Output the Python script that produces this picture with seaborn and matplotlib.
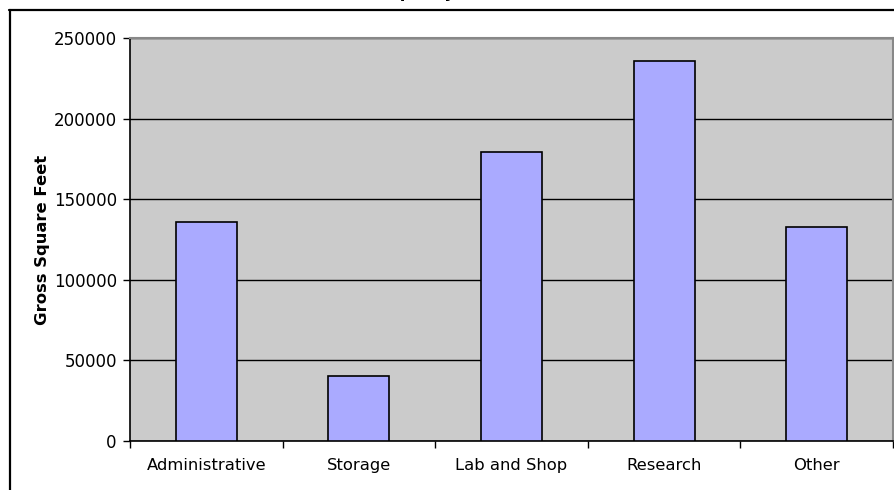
import matplotlib
matplotlib.use("Agg")
import matplotlib.pyplot as plt
from matplotlib.lines import Line2D
import seaborn as sns
import pandas as pd

categories = ["Administrative", "Storage", "Lab and Shop", "Research", "Other"]
gross_sqft = [136000, 40500, 179000, 235500, 133000]
y_ticks = [0, 50000, 100000, 150000, 200000, 250000]

df = pd.DataFrame({"category": categories, "sqft": gross_sqft})

sns.set_style("white", {"xtick.bottom": True, "ytick.left": True,
                        "text.color": "black", "axes.labelcolor": "black",
                        "xtick.color": "black", "ytick.color": "black"})
plt.rcParams["font.family"] = ["DejaVu Sans"]

W, H = 894, 490
fig = plt.figure(figsize=(W / 100, H / 100), dpi=100)
ax = fig.add_axes([130 / W, 49 / H, 763 / W, 403 / H])
ax.set_facecolor("#cbcbcb")

sns.barplot(data=df, x="category", y="sqft", color="#aaaaff", saturation=1,
            width=0.4, edgecolor="black", linewidth=1.2, ax=ax, zorder=3)

ax.set_xlim(-0.5, len(categories) - 0.5)
ax.set_ylim(0, 250000)
ax.set_yticks(y_ticks)
ax.set_yticklabels([str(v) for v in y_ticks])
ax.yaxis.grid(True, color="black", linewidth=1.0, zorder=1)
ax.set_axisbelow(True)

# category boundary ticks on the x axis
ax.set_xticks(range(len(categories)))
ax.set_xticklabels(categories)
ax.set_xticks([i - 0.5 for i in range(len(categories) + 1)], minor=True)
ax.tick_params(axis="x", which="major", length=0, pad=12, labelsize=11.8,
               labelcolor="black")
ax.tick_params(axis="x", which="minor", bottom=True, length=5, width=1,
               color="black", direction="out")
ax.tick_params(axis="y", left=True, length=5, width=1, color="black",
               direction="out", pad=4.5, labelsize=12, labelcolor="black")

ax.set_xlabel("")
ax.set_ylabel("Gross Square Feet", fontsize=11.8, fontweight="bold",
              labelpad=3, color="black")

for side in ("left", "bottom"):
    ax.spines[side].set_color("black")
    ax.spines[side].set_linewidth(1.2)
for side in ("top", "right"):
    ax.spines[side].set_color("#888888")
    ax.spines[side].set_linewidth(1.5)

# outer chart frame
fig.add_artist(Line2D([9.5 / W, 9.5 / W], [0, 480 / H], transform=fig.transFigure,
                      color="black", linewidth=1.6))
fig.add_artist(Line2D([9 / W, 1], [480 / H, 480 / H], transform=fig.transFigure,
                      color="black", linewidth=1.6))

# chart title, sitting mostly above the canvas
fig.text(405 / W, 493 / H, "Occupancy", ha="center", va="baseline",
         fontsize=12, fontweight="bold", color="black")

fig.savefig("out.png", dpi=100)
